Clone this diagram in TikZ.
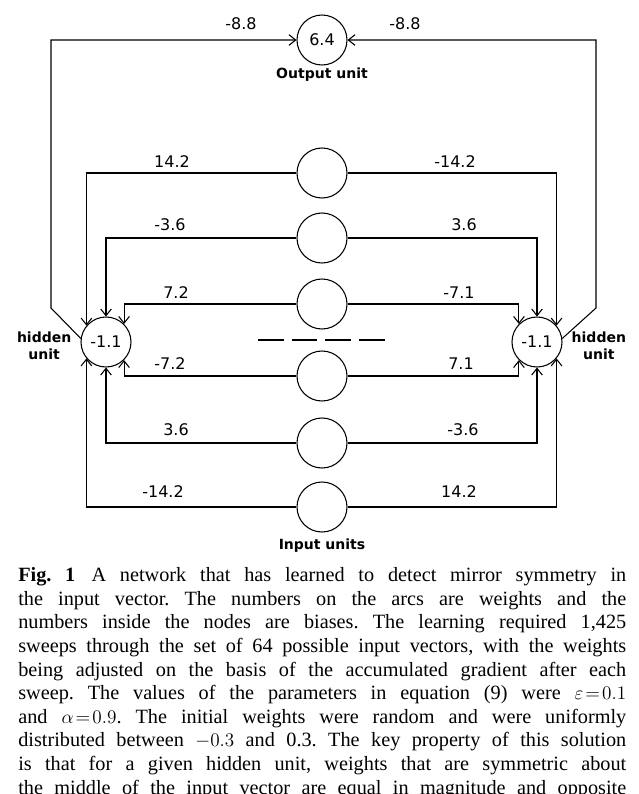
\documentclass[tikz,border=0pt]{standalone}
\usepackage{fontspec}
\setmainfont{Liberation Serif}
\newfontfamily\labfont{DejaVu Sans}
\usetikzlibrary{arrows.meta}
\frenchspacing
\tikzset{
  unit/.style={circle, draw, thick, minimum size=37.5pt, inner sep=0pt, font=\labfont\fontsize{12}{12}\selectfont},
  wire/.style={thick, -{Straight Barb[length=5pt,width=8pt]}},
  wt/.style={font=\labfont\fontsize{12}{12}\selectfont},
  tag/.style={font=\labfont\bfseries\fontsize{10.5}{13}\selectfont, align=center},
  capline/.style={anchor=base west, inner sep=0pt, font=\fontsize{15.2}{17}\selectfont}
}
\newcommand{\capl}[1]{\makebox[456pt][s]{#1}}
\begin{document}
\begin{tikzpicture}[x=0.75pt,y=-0.75pt]
  \useasboundingbox (0,0) rectangle (639,794);
  \clip (0,0) rectangle (639,794);

  \node[unit] (out) at (322,40) {6.4};
  \node[tag] (outlab) at (322,75) {Output unit};
  \node[unit] (hl) at (106,342) {-1.1};
  \node[unit] (hr) at (537,342) {-1.1};
  \node[tag, left] (hltag) at (76,346) {hidden\\unit};
  \node[tag, right] (hrtag) at (567,346) {hidden\\unit};

  \foreach \i/\y in {1/173,2/238,3/304,4/376,5/443,6/507}
    \node[unit] (in\i) at (322,\y) {};
  \node[tag] (inlab) at (322,546) {Input units};

  % dashes between the input units
  \draw[thick, dash pattern=on 19.3pt off 6pt] (258,340) -- (385,340);

  % output connections
  \coordinate (cl) at (51,308);
  \coordinate (cr) at (596,308);
  \draw[wire] (hl.172) -- (cl) |- (out.west);
  \draw[wire] (hr.8) -- (cr) |- (out.east);
  \node[wt] at (241,24) {-8.8};
  \node[wt] at (405,24) {-8.8};

  % input connections
  \draw[wire] (in1.west) -| (hl.140);
  \draw[wire] (in2.west) -| (hl.north);
  \draw[wire] (in3.west) -| (hl.45);
  \draw[wire] (in4.west) -| (hl.-45);
  \draw[wire] (in5.west) -| (hl.south);
  \draw[wire] (in6.west) -| (hl.220);
  \draw[wire] (in1.east) -| (hr.40);
  \draw[wire] (in2.east) -| (hr.north);
  \draw[wire] (in3.east) -| (hr.135);
  \draw[wire] (in4.east) -| (hr.225);
  \draw[wire] (in5.east) -| (hr.south);
  \draw[wire] (in6.east) -| (hr.-40);

  \node[wt] at (172,162) {14.2};  \node[wt] at (455,162) {-14.2};
  \node[wt] at (170,225) {-3.6};  \node[wt] at (464,225) {3.6};
  \node[wt] at (176,293) {7.2};   \node[wt] at (459,293) {-7.1};
  \node[wt] at (170,364) {-7.2};  \node[wt] at (461,364) {7.1};
  \node[wt] at (176,430) {3.6};   \node[wt] at (463,430) {-3.6};
  \node[wt] at (163,492) {-14.2}; \node[wt] at (459,492) {14.2};

  % caption
  \node[capline] (c1) at (18,581) {\capl{\textbf{Fig.~1}\hspace{0.8em}A network that has learned to detect mirror symmetry in}};
  \node[capline] (c2) at (18,605) {\capl{the input vector. The numbers on the arcs are weights and the}};
  \node[capline] (c3) at (18,628) {\capl{numbers inside the nodes are biases. The learning required 1,425}};
  \node[capline] (c4) at (18,652) {\capl{sweeps through the set of 64 possible input vectors, with the weights}};
  \node[capline] (c5) at (18,676) {\capl{being adjusted on the basis of the accumulated gradient after each}};
  \node[capline] (c6) at (18,699) {\capl{sweep. The values of the parameters in equation (9) were \mbox{$\varepsilon\!=\!0.1$}}};
  \node[capline] (c7) at (18,723) {\capl{and \mbox{$\alpha\!=\!0.9$}. The initial weights were random and were uniformly}};
  \node[capline] (c8) at (18,746) {\capl{distributed between \mbox{$-0.3$} and 0.3. The key property of this solution}};
  \node[capline] (c9) at (18,770) {\capl{is that for a given hidden unit, weights that are symmetric about}};
  \node[capline] (c10) at (18,794) {\capl{the middle of the input vector are equal in magnitude and opposite}};
\end{tikzpicture}
\end{document}
